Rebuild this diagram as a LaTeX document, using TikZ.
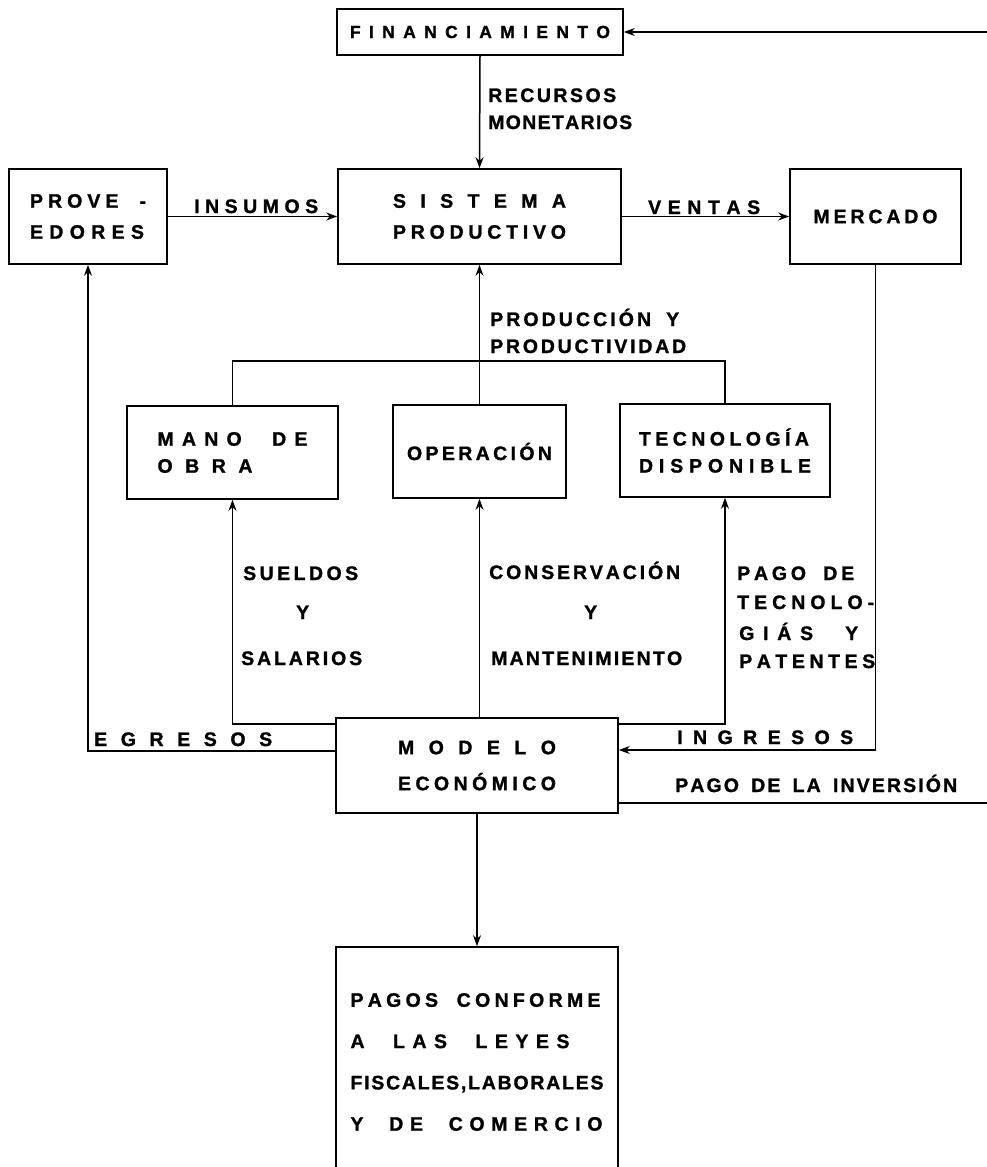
\documentclass[tikz,border=0pt]{standalone}
\usepackage{fontspec}
\setmainfont{Liberation Sans}[BoldFeatures={FakeBold=1.2}]
\usetikzlibrary{arrows.meta}
\ExplSyntaxOn
\bool_new:N \l_spr_first_bool
\NewDocumentCommand\spr{ m m }
  {
    \hbox_to_wd:nn {#1}
      {
        \bool_set_true:N \l_spr_first_bool
        \str_map_inline:nn {#2}
          {
            \bool_if:NTF \l_spr_first_bool
              { \bool_set_false:N \l_spr_first_bool }
              { \hfil }
            \str_if_eq:nnTF {##1} { ~ } { \skip_horizontal:n { 0.3em } \hfil } { ##1 }
          }
      }
  }
\ExplSyntaxOff
\tikzset{
  box/.style={draw, line width=1.6pt, inner sep=0pt, align=left, font=\bfseries\fontsize{19.5}{31}\selectfont},
  lab/.style={inner sep=0pt, anchor=base west, font=\bfseries\fontsize{19.5}{23}\selectfont},
  con/.style={line width=1.5pt},
  arr/.style={con, -{Stealth[length=11pt,width=8pt]}},
}
\begin{document}
\begin{tikzpicture}[x=1pt,y=-1pt]
\fill[white] (0,0) rectangle (986,1167);
\useasboundingbox (0,0) rectangle (986,1167);
% boxes
\node[box, minimum width=286pt, minimum height=46pt, font=\bfseries\fontsize{17.5}{20}\selectfont] (fin) at (480,32) {\spr{260pt}{FINANCIAMIENTO}};
\node[box, minimum width=158pt, minimum height=95pt] (prov) at (88,216.5) {\spr{116pt}{PROVE -}\\\spr{114pt}{EDORES}};
\node[box, minimum width=283pt, minimum height=95pt] (sis) at (479.5,216.5) {\spr{173pt}{SISTEMA}\\\spr{173pt}{PRODUCTIVO}};
\node[box, minimum width=171pt, minimum height=95pt] (mer) at (875.5,216.5) {\spr{124pt}{MERCADO}};
\node[box, minimum width=211pt, minimum height=93pt, font=\bfseries\fontsize{19.5}{27}\selectfont] (mano) at (232.5,452.5) {\spr{150pt}{MANO DE}\\\spr{95pt}{OBRA}};
\node[box, minimum width=173pt, minimum height=93pt] (ope) at (479.5,451.5) {\spr{145pt}{OPERACIÓN}};
\node[box, minimum width=210pt, minimum height=93pt, font=\bfseries\fontsize{19.5}{27}\selectfont] (tec) at (725,450.5) {\spr{170pt}{TECNOLOGÍA}\\\spr{172pt}{DISPONIBLE}};
\node[box, minimum width=282pt, minimum height=95pt, font=\bfseries\fontsize{19.5}{36}\selectfont] (mod) at (477,765.5) {\spr{158pt}{MODELO}\\\spr{158pt}{ECONÓMICO}};
\node[box, minimum width=282pt, minimum height=230pt, font=\bfseries\fontsize{19.5}{41.3}\selectfont] (pag) at (477,1062) {\spr{250pt}{PAGOS CONFORME}\\\spr{219pt}{A LAS LEYES}\\\spr{253pt}{FISCALES,LABORALES}\\\spr{252pt}{Y DE COMERCIO}};
% free labels
\node[lab] (lrec) at (488,102) {\spr{128pt}{RECURSOS}};
\node[lab] (lmon) at (488,129) {\spr{144pt}{MONETARIOS}};
\node[lab] (lins) at (194,213) {\spr{124pt}{INSUMOS}};
\node[lab] (lven) at (648,214) {\spr{112pt}{VENTAS}};
\node[lab] (lpro1) at (490,326) {\spr{189pt}{PRODUCCIÓN Y}};
\node[lab] (lpro2) at (490,353) {\spr{196pt}{PRODUCTIVIDAD}};
\node[lab] (lsue) at (243,580) {\spr{115pt}{SUELDOS}};
\node[lab] (ly1) at (296,619) {Y};
\node[lab] (lsal) at (241,665) {\spr{121pt}{SALARIOS}};
\node[lab] (lcon) at (489,579) {\spr{191pt}{CONSERVACIÓN}};
\node[lab] (ly2) at (584,619) {Y};
\node[lab] (lman) at (491,665) {\spr{191pt}{MANTENIMIENTO}};
\node[lab] (lpag1) at (737,580) {\spr{117pt}{PAGO DE}};
\node[lab] (lpag2) at (737,609) {\spr{137pt}{TECNOLO-}};
\node[lab] (lpag3) at (739,640) {\spr{119pt}{GIÁS Y}};
\node[lab] (lpag4) at (739,668) {\spr{136pt}{PATENTES}};
\node[lab] (legr) at (94,746) {\spr{178pt}{EGRESOS}};
\node[lab] (ling) at (677,744) {\spr{176pt}{INGRESOS}};
\node[lab] (linv) at (675,792) {\spr{282pt}{PAGO DE LA INVERSIÓN}};
% helper coordinates
\coordinate (brk) at (0,361);
\coordinate (suy) at (0,724);
\coordinate (egy) at (0,751);
\coordinate (ingy) at (0,750);
\coordinate (invy) at (0,803);
\coordinate (rx) at (995,0);
% connectors
\draw[arr] (fin.south) -- (sis.north);
\draw[arr] (prov.east) -- (sis.west);
\draw[arr] (sis.east) -- (mer.west);
\draw[arr] (ope.north) -- (sis.south);
\draw[con] (mano.north) -- (mano.north |- brk) -- (tec.north |- brk) -- (tec.north);
\draw[arr] (mod.north -| ope.south) -- (ope.south);
\draw[arr] (mod.west |- suy) -- (mano.south |- suy) -- (mano.south);
\draw[arr] (mod.east |- suy) -- (tec.south |- suy) -- (tec.south);
\draw[arr] (mod.west |- egy) -- (prov.south |- egy) -- (prov.south);
\draw[arr] (mer.south) -- (mer.south |- ingy) -- (mod.east |- ingy);
\draw[arr] (mod.east |- invy) -- (rx |- invy) -- (rx |- fin.east) -- (fin.east);
\draw[arr] (mod.south) -- (mod.south |- pag.north);
\end{tikzpicture}
\end{document}
